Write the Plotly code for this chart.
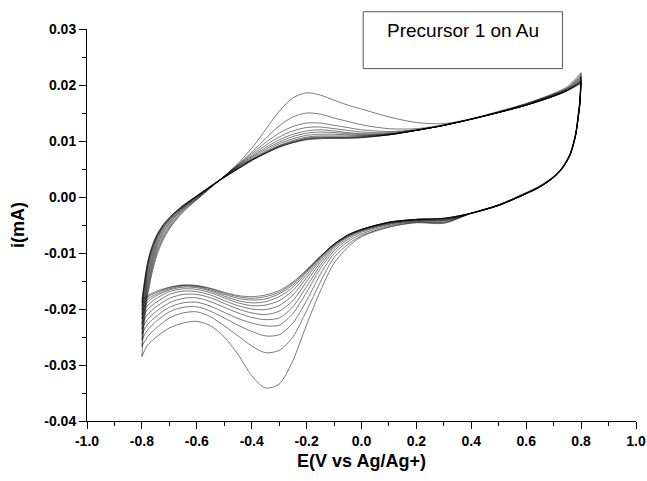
import plotly.graph_objects as go

# Potential grids (V vs Ag/Ag+)
E_fwd = [-0.80, -0.795, -0.79, -0.78, -0.765, -0.745, -0.72, -0.69, -0.65, -0.60,
         -0.55, -0.50, -0.45, -0.40, -0.35, -0.30, -0.25, -0.20, -0.15, -0.10,
         -0.05, 0.00, 0.10, 0.20, 0.30, 0.40, 0.50, 0.60, 0.70, 0.75, 0.80]
E_rev = [0.80, 0.795, 0.79, 0.78, 0.76, 0.73, 0.70, 0.65, 0.60, 0.50,
         0.40, 0.30, 0.20, 0.10, 0.00, -0.05, -0.10, -0.15, -0.20, -0.25,
         -0.30, -0.35, -0.40, -0.45, -0.50, -0.55, -0.60, -0.65, -0.70, -0.75,
         -0.78, -0.80]

# Forward (anodic) sweep currents, mA, one list per cycle
fwd_c01 = [-0.0285, -0.0245, -0.0218, -0.0180, -0.0140, -0.0103, -0.0074, -0.0050, -0.0027, -0.0005,
           0.0016, 0.0037, 0.0060, 0.0087, 0.0120, 0.0153, 0.0177, 0.0186, 0.0182, 0.0173,
           0.0164, 0.0157, 0.0143, 0.0133, 0.0131, 0.0140, 0.0153, 0.0167, 0.0185, 0.0197, 0.0222]
fwd_c02 = [-0.0267, -0.0232, -0.0208, -0.0172, -0.0134, -0.0098, -0.0071, -0.0048, -0.0025, -0.0004,
           0.0017, 0.0037, 0.0058, 0.0080, 0.0104, 0.0127, 0.0143, 0.0150, 0.0148, 0.0141,
           0.0135, 0.0129, 0.0122, 0.0122, 0.0129, 0.0139, 0.0152, 0.0166, 0.0184, 0.0195, 0.0219]
fwd_c03 = [-0.0255, -0.0222, -0.0200, -0.0165, -0.0128, -0.0093, -0.0067, -0.0045, -0.0023, -0.0003,
           0.0017, 0.0037, 0.0057, 0.0077, 0.0097, 0.0114, 0.0126, 0.0132, 0.0132, 0.0128,
           0.0124, 0.0120, 0.0117, 0.0120, 0.0128, 0.0139, 0.0152, 0.0166, 0.0183, 0.0194, 0.0216]
fwd_c04 = [-0.0245, -0.0212, -0.0192, -0.0158, -0.0122, -0.0088, -0.0063, -0.0042, -0.0021, -0.0002,
           0.0018, 0.0037, 0.0056, 0.0074, 0.0092, 0.0107, 0.0118, 0.0124, 0.0125, 0.0122,
           0.0119, 0.0116, 0.0115, 0.0120, 0.0128, 0.0139, 0.0151, 0.0165, 0.0182, 0.0193, 0.0214]
fwd_c05 = [-0.0236, -0.0204, -0.0185, -0.0151, -0.0116, -0.0084, -0.0060, -0.0040, -0.0020, -0.0001,
           0.0018, 0.0036, 0.0055, 0.0072, 0.0088, 0.0102, 0.0112, 0.0118, 0.0120, 0.0118,
           0.0115, 0.0113, 0.0113, 0.0119, 0.0128, 0.0139, 0.0151, 0.0165, 0.0182, 0.0192, 0.0212]
fwd_c06 = [-0.0227, -0.0196, -0.0178, -0.0144, -0.0111, -0.0080, -0.0057, -0.0038, -0.0019, 0.0000,
           0.0018, 0.0036, 0.0054, 0.0070, 0.0085, 0.0098, 0.0108, 0.0114, 0.0116, 0.0115,
           0.0113, 0.0112, 0.0113, 0.0119, 0.0128, 0.0139, 0.0151, 0.0164, 0.0181, 0.0191, 0.0210]
fwd_c07 = [-0.0218, -0.0188, -0.0170, -0.0137, -0.0105, -0.0076, -0.0054, -0.0036, -0.0018, 0.0001,
           0.0019, 0.0036, 0.0053, 0.0068, 0.0082, 0.0095, 0.0104, 0.0110, 0.0112, 0.0112,
           0.0111, 0.0110, 0.0112, 0.0119, 0.0128, 0.0139, 0.0151, 0.0164, 0.0181, 0.0191, 0.0208]
fwd_c08 = [-0.0210, -0.0181, -0.0163, -0.0131, -0.0100, -0.0073, -0.0052, -0.0035, -0.0017, 0.0001,
           0.0019, 0.0036, 0.0052, 0.0067, 0.0080, 0.0092, 0.0101, 0.0107, 0.0109, 0.0109,
           0.0109, 0.0109, 0.0112, 0.0119, 0.0128, 0.0139, 0.0151, 0.0164, 0.0180, 0.0191, 0.0207]
fwd_c09 = [-0.0202, -0.0176, -0.0158, -0.0127, -0.0097, -0.0071, -0.0051, -0.0034, -0.0016, 0.0001,
           0.0019, 0.0035, 0.0051, 0.0066, 0.0079, 0.0091, 0.0099, 0.0105, 0.0107, 0.0107,
           0.0107, 0.0108, 0.0111, 0.0119, 0.0128, 0.0139, 0.0151, 0.0164, 0.0180, 0.0190, 0.0206]
fwd_c10 = [-0.0195, -0.0172, -0.0154, -0.0123, -0.0094, -0.0069, -0.0049, -0.0033, -0.0016, 0.0002,
           0.0019, 0.0035, 0.0051, 0.0066, 0.0078, 0.0090, 0.0098, 0.0104, 0.0106, 0.0106,
           0.0106, 0.0107, 0.0111, 0.0119, 0.0128, 0.0139, 0.0151, 0.0164, 0.0180, 0.0190, 0.0205]
fwd_c11 = [-0.0189, -0.0168, -0.0151, -0.0120, -0.0092, -0.0068, -0.0048, -0.0032, -0.0015, 0.0002,
           0.0019, 0.0035, 0.0050, 0.0065, 0.0078, 0.0089, 0.0097, 0.0103, 0.0105, 0.0105,
           0.0105, 0.0106, 0.0111, 0.0119, 0.0128, 0.0139, 0.0151, 0.0164, 0.0180, 0.0190, 0.0204]
fwd_c12 = [-0.0183, -0.0165, -0.0148, -0.0118, -0.0090, -0.0067, -0.0048, -0.0032, -0.0015, 0.0002,
           0.0019, 0.0035, 0.0050, 0.0065, 0.0078, 0.0089, 0.0097, 0.0102, 0.0104, 0.0105,
           0.0105, 0.0106, 0.0111, 0.0119, 0.0128, 0.0139, 0.0151, 0.0164, 0.0180, 0.0190, 0.0203]

# Reverse (cathodic) sweep currents, mA, one list per cycle
rev_c01 = [0.0222, 0.0172, 0.0150, 0.0114, 0.0078, 0.0052, 0.0037, 0.0020, 0.0008, -0.0014,
           -0.0029, -0.0047, -0.0046, -0.0054, -0.0071, -0.0090, -0.0118, -0.0168, -0.0228, -0.0292,
           -0.0334, -0.0341, -0.0319, -0.0281, -0.0250, -0.0230, -0.0222, -0.0225, -0.0234, -0.0251,
           -0.0265, -0.0285]
rev_c02 = [0.0219, 0.0170, 0.0149, 0.0113, 0.0077, 0.0052, 0.0036, 0.0019, 0.0007, -0.0014,
           -0.0029, -0.0046, -0.0045, -0.0053, -0.0069, -0.0085, -0.0108, -0.0152, -0.0203, -0.0250,
           -0.0274, -0.0278, -0.0266, -0.0248, -0.0230, -0.0214, -0.0205, -0.0207, -0.0216, -0.0235,
           -0.0250, -0.0267]
rev_c03 = [0.0216, 0.0168, 0.0148, 0.0112, 0.0077, 0.0051, 0.0036, 0.0019, 0.0007, -0.0014,
           -0.0029, -0.0045, -0.0044, -0.0051, -0.0066, -0.0080, -0.0101, -0.0138, -0.0185, -0.0225,
           -0.0246, -0.0248, -0.0240, -0.0229, -0.0216, -0.0204, -0.0196, -0.0197, -0.0205, -0.0223,
           -0.0238, -0.0255]
rev_c04 = [0.0214, 0.0167, 0.0147, 0.0112, 0.0076, 0.0051, 0.0036, 0.0019, 0.0007, -0.0014,
           -0.0029, -0.0043, -0.0043, -0.0049, -0.0063, -0.0076, -0.0096, -0.0128, -0.0170, -0.0208,
           -0.0229, -0.0230, -0.0225, -0.0217, -0.0206, -0.0195, -0.0188, -0.0189, -0.0197, -0.0214,
           -0.0228, -0.0245]
rev_c05 = [0.0212, 0.0166, 0.0146, 0.0111, 0.0076, 0.0051, 0.0036, 0.0019, 0.0007, -0.0014,
           -0.0029, -0.0042, -0.0042, -0.0048, -0.0061, -0.0073, -0.0092, -0.0122, -0.0160, -0.0196,
           -0.0216, -0.0219, -0.0215, -0.0207, -0.0197, -0.0187, -0.0180, -0.0181, -0.0189, -0.0205,
           -0.0219, -0.0236]
rev_c06 = [0.0210, 0.0165, 0.0145, 0.0111, 0.0076, 0.0051, 0.0035, 0.0018, 0.0006, -0.0015,
           -0.0029, -0.0041, -0.0041, -0.0047, -0.0060, -0.0071, -0.0089, -0.0117, -0.0151, -0.0185,
           -0.0204, -0.0210, -0.0207, -0.0200, -0.0190, -0.0180, -0.0174, -0.0174, -0.0181, -0.0197,
           -0.0210, -0.0227]
rev_c07 = [0.0208, 0.0165, 0.0145, 0.0111, 0.0076, 0.0051, 0.0035, 0.0018, 0.0006, -0.0015,
           -0.0029, -0.0040, -0.0041, -0.0046, -0.0059, -0.0070, -0.0087, -0.0113, -0.0144, -0.0175,
           -0.0194, -0.0201, -0.0200, -0.0194, -0.0185, -0.0175, -0.0169, -0.0168, -0.0174, -0.0189,
           -0.0201, -0.0218]
rev_c08 = [0.0207, 0.0164, 0.0144, 0.0110, 0.0075, 0.0050, 0.0035, 0.0018, 0.0006, -0.0015,
           -0.0029, -0.0039, -0.0040, -0.0046, -0.0058, -0.0069, -0.0086, -0.0110, -0.0139, -0.0167,
           -0.0185, -0.0193, -0.0194, -0.0189, -0.0180, -0.0171, -0.0165, -0.0164, -0.0169, -0.0182,
           -0.0194, -0.0210]
rev_c09 = [0.0206, 0.0164, 0.0144, 0.0110, 0.0075, 0.0050, 0.0035, 0.0018, 0.0006, -0.0015,
           -0.0029, -0.0039, -0.0040, -0.0045, -0.0058, -0.0068, -0.0085, -0.0108, -0.0135, -0.0161,
           -0.0178, -0.0187, -0.0189, -0.0185, -0.0177, -0.0168, -0.0162, -0.0161, -0.0166, -0.0177,
           -0.0188, -0.0202]
rev_c10 = [0.0205, 0.0163, 0.0143, 0.0110, 0.0075, 0.0050, 0.0035, 0.0018, 0.0006, -0.0015,
           -0.0029, -0.0038, -0.0040, -0.0045, -0.0058, -0.0068, -0.0084, -0.0107, -0.0133, -0.0157,
           -0.0173, -0.0182, -0.0184, -0.0181, -0.0174, -0.0166, -0.0160, -0.0159, -0.0164, -0.0174,
           -0.0183, -0.0195]
rev_c11 = [0.0204, 0.0163, 0.0143, 0.0110, 0.0075, 0.0050, 0.0035, 0.0018, 0.0006, -0.0015,
           -0.0029, -0.0038, -0.0040, -0.0045, -0.0058, -0.0068, -0.0084, -0.0106, -0.0131, -0.0154,
           -0.0170, -0.0178, -0.0181, -0.0178, -0.0172, -0.0164, -0.0159, -0.0158, -0.0162, -0.0171,
           -0.0179, -0.0189]
rev_c12 = [0.0203, 0.0163, 0.0143, 0.0110, 0.0075, 0.0050, 0.0035, 0.0018, 0.0006, -0.0015,
           -0.0029, -0.0038, -0.0040, -0.0045, -0.0058, -0.0068, -0.0084, -0.0106, -0.0130, -0.0152,
           -0.0167, -0.0175, -0.0178, -0.0176, -0.0170, -0.0163, -0.0158, -0.0157, -0.0161, -0.0169,
           -0.0176, -0.0183]

forward_sweeps = [fwd_c01, fwd_c02, fwd_c03, fwd_c04, fwd_c05, fwd_c06,
                  fwd_c07, fwd_c08, fwd_c09, fwd_c10, fwd_c11, fwd_c12]
reverse_sweeps = [rev_c01, rev_c02, rev_c03, rev_c04, rev_c05, rev_c06,
                  rev_c07, rev_c08, rev_c09, rev_c10, rev_c11, rev_c12]

# Tick labels
x_tick_vals = [-1.0, -0.8, -0.6, -0.4, -0.2, 0.0, 0.2, 0.4, 0.6, 0.8, 1.0]
x_tick_text = ["-1.0", "-0.8", "-0.6", "-0.4", "-0.2", "0.0", "0.2", "0.4", "0.6", "0.8", "1.0"]
x_minor_vals = [-0.9, -0.7, -0.5, -0.3, -0.1, 0.1, 0.3, 0.5, 0.7, 0.9]
y_tick_vals = [-0.04, -0.03, -0.02, -0.01, 0.00, 0.01, 0.02, 0.03]
y_tick_text = ["-0.04", "-0.03", "-0.02", "-0.01", "0.00", "0.01", "0.02", "0.03"]
y_minor_vals = [-0.035, -0.025, -0.015, -0.005, 0.005, 0.015, 0.025]

FONT = "Liberation Sans, Arial, Helvetica, sans-serif"

fig = go.Figure()
line_style = dict(color="rgba(0,0,0,0.65)", width=0.8, shape="spline", smoothing=0.8)
for fwd, rev in zip(forward_sweeps, reverse_sweeps):
    fig.add_trace(go.Scatter(x=E_fwd, y=fwd, mode="lines", line=line_style,
                             showlegend=False, hoverinfo="skip"))
    fig.add_trace(go.Scatter(x=E_rev, y=rev, mode="lines", line=line_style,
                             showlegend=False, hoverinfo="skip"))

axis_common = dict(
    showline=True, linecolor="black", linewidth=1, mirror=False,
    showgrid=False, zeroline=False, automargin=False,
    ticks="outside", ticklen=7, tickwidth=1, tickcolor="black",
    ticklabeloverflow="allow",
    tickfont=dict(family=FONT, size=14, color="black", weight="bold"),
)

fig.update_layout(
    width=647, height=481,
    margin=dict(l=87, r=11, t=29, b=60),
    paper_bgcolor="white", plot_bgcolor="white",
    showlegend=False,
    xaxis=dict(
        range=[-1.0, 1.0], tickmode="array", tickvals=x_tick_vals, ticktext=x_tick_text,
        minor=dict(tickmode="array", tickvals=x_minor_vals, ticks="outside", ticklen=4,
                   tickwidth=1, tickcolor="black", showgrid=False),
        title=dict(text="E(V vs Ag/Ag+)", standoff=6,
                   font=dict(family=FONT, size=18, color="black", weight="bold")),
        **axis_common,
    ),
    yaxis=dict(
        range=[-0.04, 0.03], tickmode="array", tickvals=y_tick_vals, ticktext=y_tick_text,
        minor=dict(tickmode="array", tickvals=y_minor_vals, ticks="outside", ticklen=4,
                   tickwidth=1, tickcolor="black", showgrid=False),
        title=dict(text="i(mA)", standoff=14,
                   font=dict(family=FONT, size=18, color="black", weight="bold")),
        **axis_common,
    ),
    shapes=[dict(type="rect", xref="paper", yref="paper",
                 x0=0.503, x1=0.866, y0=0.899, y1=1.044,
                 line=dict(color="#555555", width=1), fillcolor="white", layer="above")],
    annotations=[dict(text="Precursor 1 on Au", xref="paper", yref="paper",
                      x=0.6843, y=0.9957, xanchor="center", yanchor="middle",
                      showarrow=False,
                      font=dict(family=FONT, size=19, color="black"))],
)

# Remove the browser's default 8px page margin so the figure fills the window exactly.
fig.write_html("out.html",
               config={"displayModeBar": False, "staticPlot": True},
               post_script="document.body.style.margin='0';document.body.style.overflow='hidden';")
